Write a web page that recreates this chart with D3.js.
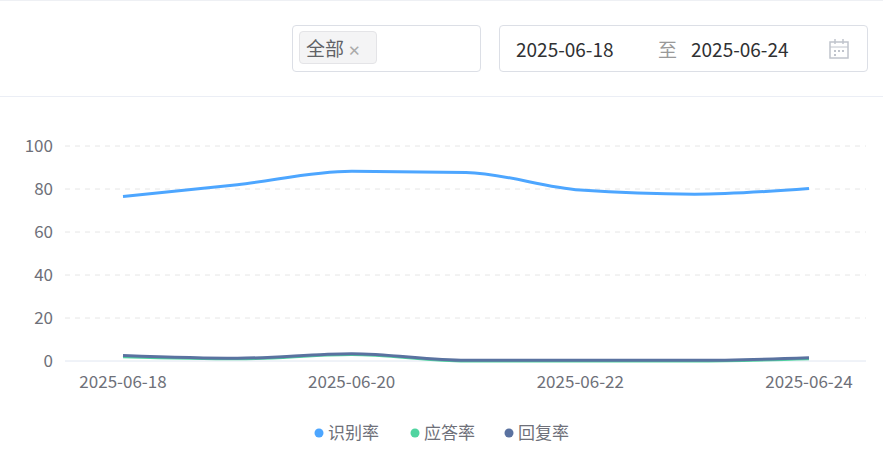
<!DOCTYPE html>
<html><head><meta charset="utf-8">
<script src="https://cdn.jsdelivr.net/npm/d3@7"></script>
<style>
body{margin:0;background:#fff;font-family:"Microsoft YaHei","Noto Sans CJK SC",sans-serif;}
.box{position:absolute;border:1px solid #dcdfe6;border-radius:4px;box-sizing:border-box;}
</style></head><body>
<div style="position:absolute;left:0;top:0;width:883px;height:1px;background:#eef0f4"></div>
<div class="box" style="left:292px;top:25px;width:189px;height:47px;">
  <div style="position:absolute;left:6px;top:5px;width:78px;height:33px;background:#f4f4f5;border:1px solid #e4e4e7;border-radius:4px;box-sizing:border-box;font-size:19px;color:#606266;line-height:31px;padding-left:6px;">全部 <span style="color:#aaa;font-size:15px">✕</span></div>
</div>
<div class="box" style="left:499px;top:25px;width:369px;height:47px;font-size:19px;color:#303133;line-height:45px;">
  <span style="position:absolute;left:16px">2025-06-18</span>
  <span style="position:absolute;left:158px;color:#999">至</span>
  <span style="position:absolute;left:191px">2025-06-24</span>
  <svg style="position:absolute;left:328px;top:12px" width="22" height="22"><rect x="2" y="4" width="18" height="16" fill="none" stroke="#c0c4cc" stroke-width="1.5"/><line x1="2" y1="9" x2="20" y2="9" stroke="#c0c4cc"/><line x1="7" y1="1" x2="7" y2="6" stroke="#c0c4cc" stroke-width="1.5"/><line x1="15" y1="1" x2="15" y2="6" stroke="#c0c4cc" stroke-width="1.5"/><g fill="#c0c4cc"><rect x="6" y="12" width="2" height="2"/><rect x="10" y="12" width="2" height="2"/><rect x="14" y="12" width="2" height="2"/><rect x="6" y="16" width="2" height="2"/></g></svg>
</div>
<div style="position:absolute;left:0;top:96px;width:883px;height:1px;background:#ebeef5"></div>
<svg id="chart" width="883" height="465" style="position:absolute;left:0;top:0"></svg>
<script>
const dates = ["2025-06-18","2025-06-19","2025-06-20","2025-06-21","2025-06-22","2025-06-23","2025-06-24"];
const tickLabels = ["2025-06-18","2025-06-20","2025-06-22","2025-06-24"];
const yTicks = [0,20,40,60,80,100];
const seriesNames = ["识别率","应答率","回复率"];
const colors = ["#4da6ff","#50d4a0","#5a72a0"];
const recog = [76.5, 82, 88.2, 87.7, 79.5, 77.6, 80.2];
const answer = [2, 1, 3, 0, 0, 0, 1];
const reply = [2.6, 1.3, 3.4, 0.3, 0.3, 0.3, 1.5];
const allSeries = [recog, answer, reply];

const svg = d3.select("#chart");
const parse = d3.timeParse("%Y-%m-%d");
const x = d3.scaleTime().domain([parse(dates[0]), parse(dates[6])]).range([123, 809]);
const y = d3.scaleLinear().domain([0,100]).range([361,146]);

// grid
svg.selectAll("line.grid").data(yTicks.slice(1)).enter().append("line")
  .attr("x1",65).attr("x2",866).attr("y1",d=>y(d)).attr("y2",d=>y(d))
  .attr("stroke","#e6e6e6").attr("stroke-dasharray","5,5");
svg.append("line").attr("x1",65).attr("x2",866).attr("y1",y(0)).attr("y2",y(0)).attr("stroke","#e0e6f1");

svg.selectAll("text.yl").data(yTicks).enter().append("text")
  .attr("x",53).attr("y",d=>y(d)+6).attr("text-anchor","end")
  .attr("fill","#6e7079").attr("font-size",17).text(d=>d);
svg.selectAll("text.xl").data(tickLabels).enter().append("text")
  .attr("x",d=>x(parse(d))).attr("y",388).attr("text-anchor","middle")
  .attr("fill","#6e7079").attr("font-size",17).text(d=>d);

const line = d3.line().x((d,i)=>x(parse(dates[i]))).y(d=>y(d)).curve(d3.curveMonotoneX);
allSeries.forEach((s,i)=>{
  svg.append("path").datum(s).attr("d",line).attr("fill","none")
    .attr("stroke",colors[i]).attr("stroke-width",3);
});

// legend
const lx = [319, 415, 509];
seriesNames.forEach((n,i)=>{
  svg.append("circle").attr("cx",lx[i]).attr("cy",433).attr("r",4.5).attr("fill",colors[i]);
  svg.append("text").attr("x",lx[i]+9).attr("y",439).attr("font-size",17).attr("fill","#6e7079").text(n);
});
</script>
</body></html>
